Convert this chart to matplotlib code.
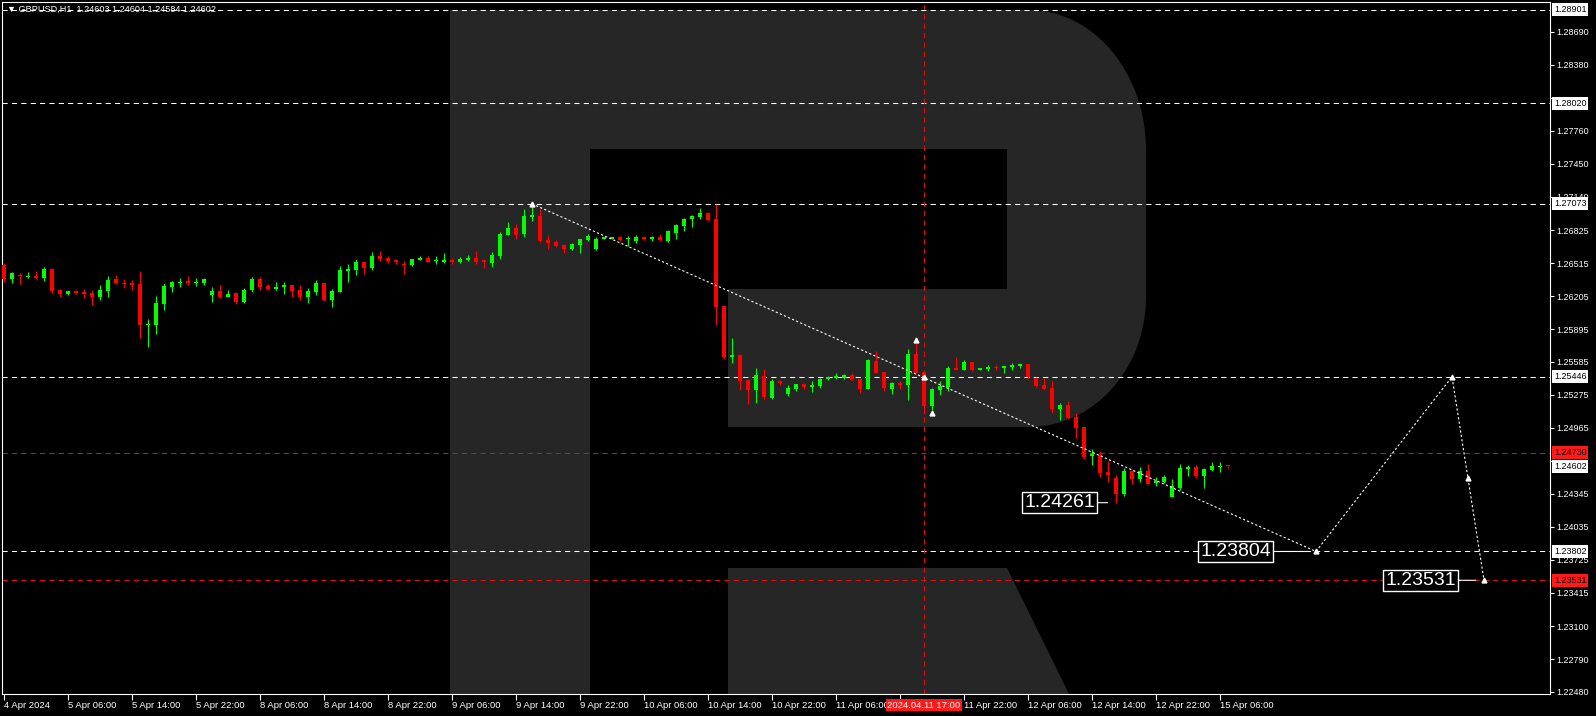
import numpy as np
import matplotlib
matplotlib.use("Agg")
import matplotlib.pyplot as plt
from matplotlib.patches import Polygon
from matplotlib.transforms import blended_transform_factory

plt.rcParams['font.family'] = ['Liberation Sans', 'DejaVu Sans']

# GBPUSD H1, bars from 4 Apr 22:00 to 15 Apr 07:00
opens = [1.26498, 1.26366, 1.26404, 1.26385, 1.26394, 1.26375, 1.26460, 1.26263, 1.26225, 1.26253,
         1.26244, 1.26234, 1.26197, 1.26253, 1.26366, 1.26328, 1.26328, 1.26319, 1.25933, 1.25933,
         1.26130, 1.26291, 1.26328, 1.26347, 1.26328, 1.26328, 1.26216, 1.26253, 1.26197, 1.26234,
         1.26149, 1.26263, 1.26366, 1.26300, 1.26272, 1.26291, 1.26310, 1.26263, 1.26197, 1.26244,
         1.26328, 1.26168, 1.26244, 1.26441, 1.26451, 1.26526, 1.26470, 1.26583, 1.26564, 1.26545,
         1.26507, 1.26498, 1.26545, 1.26564, 1.26535, 1.26526, 1.26545, 1.26526, 1.26545, 1.26564,
         1.26545, 1.26517, 1.26583, 1.26780, 1.26846, 1.26789, 1.26949, 1.26958, 1.26733, 1.26714,
         1.26686, 1.26648, 1.26686, 1.26733, 1.26648, 1.26742, 1.26742, 1.26761, 1.26742, 1.26723,
         1.26761, 1.26742, 1.26761, 1.26723, 1.26798, 1.26864, 1.26930, 1.26949, 1.26987, 1.26930,
         1.26112, 1.25632, 1.25651, 1.25416, 1.25322, 1.25453, 1.25246, 1.25406, 1.25284, 1.25331,
         1.25378, 1.25350, 1.25359, 1.25425, 1.25435, 1.25435, 1.25463, 1.25425, 1.25331, 1.25595,
         1.25491, 1.25331, 1.25387, 1.25369, 1.25660, 1.25491, 1.25171, 1.25322, 1.25350, 1.25529,
         1.25510, 1.25585, 1.25510, 1.25519, 1.25538, 1.25529, 1.25538, 1.25547, 1.25566, 1.25435,
         1.25369, 1.25340, 1.25142, 1.25180, 1.25067, 1.24973, 1.24700, 1.24710, 1.24550, 1.24493,
         1.24343, 1.24559, 1.24484, 1.24559, 1.24446, 1.24456, 1.24315, 1.24399, 1.24578, 1.24597,
         1.24512, 1.24569, 1.24597, 1.24603]
highs = [1.26517, 1.26432, 1.26422, 1.26432, 1.26441, 1.26479, 1.26470, 1.26272, 1.26253, 1.26263,
         1.26272, 1.26263, 1.26310, 1.26394, 1.26404, 1.26366, 1.26357, 1.26441, 1.25989, 1.26206,
         1.26328, 1.26347, 1.26375, 1.26394, 1.26375, 1.26375, 1.26291, 1.26310, 1.26263, 1.26234,
         1.26281, 1.26385, 1.26385, 1.26319, 1.26338, 1.26338, 1.26310, 1.26310, 1.26281, 1.26357,
         1.26328, 1.26272, 1.26488, 1.26507, 1.26554, 1.26526, 1.26620, 1.26630, 1.26583, 1.26554,
         1.26535, 1.26554, 1.26583, 1.26583, 1.26583, 1.26611, 1.26564, 1.26573, 1.26592, 1.26630,
         1.26554, 1.26620, 1.26808, 1.26902, 1.26883, 1.27024, 1.27073, 1.27024, 1.26780, 1.26733,
         1.26695, 1.26704, 1.26742, 1.26789, 1.26761, 1.26761, 1.26761, 1.26770, 1.26770, 1.26780,
         1.26770, 1.26770, 1.26789, 1.26827, 1.26883, 1.26940, 1.26968, 1.27034, 1.26996, 1.27071,
         1.26112, 1.25810, 1.25660, 1.25425, 1.25529, 1.25519, 1.25425, 1.25416, 1.25369, 1.25378,
         1.25387, 1.25406, 1.25435, 1.25453, 1.25482, 1.25472, 1.25482, 1.25425, 1.25613, 1.25689,
         1.25491, 1.25397, 1.25406, 1.25707, 1.25763, 1.25491, 1.25340, 1.25406, 1.25547, 1.25632,
         1.25604, 1.25585, 1.25529, 1.25557, 1.25557, 1.25547, 1.25576, 1.25566, 1.25566, 1.25444,
         1.25435, 1.25406, 1.25199, 1.25218, 1.25105, 1.24973, 1.24766, 1.24747, 1.24653, 1.24522,
         1.24588, 1.24569, 1.24597, 1.24625, 1.24503, 1.24522, 1.24484, 1.24625, 1.24616, 1.24616,
         1.24588, 1.24644, 1.24644, 1.24604]
lows = [1.26338, 1.26328, 1.26319, 1.26375, 1.26366, 1.26347, 1.26234, 1.26197, 1.26216, 1.26225,
        1.26187, 1.26121, 1.26168, 1.26197, 1.26319, 1.26281, 1.26263, 1.25810, 1.25726, 1.25848,
        1.26074, 1.26244, 1.26291, 1.26310, 1.26300, 1.26310, 1.26149, 1.26187, 1.26197, 1.26130,
        1.26140, 1.26244, 1.26263, 1.26263, 1.26263, 1.26225, 1.26197, 1.26168, 1.26140, 1.26216,
        1.26159, 1.26102, 1.26244, 1.26338, 1.26404, 1.26413, 1.26451, 1.26535, 1.26517, 1.26507,
        1.26413, 1.26488, 1.26545, 1.26526, 1.26507, 1.26517, 1.26507, 1.26517, 1.26535, 1.26507,
        1.26470, 1.26479, 1.26554, 1.26780, 1.26742, 1.26761, 1.26911, 1.26714, 1.26648, 1.26667,
        1.26611, 1.26639, 1.26611, 1.26723, 1.26639, 1.26742, 1.26742, 1.26723, 1.26676, 1.26704,
        1.26733, 1.26723, 1.26723, 1.26714, 1.26742, 1.26817, 1.26855, 1.26930, 1.26911, 1.25933,
        1.25613, 1.25576, 1.25322, 1.25189, 1.25199, 1.25237, 1.25237, 1.25369, 1.25265, 1.25312,
        1.25331, 1.25303, 1.25340, 1.25416, 1.25425, 1.25425, 1.25416, 1.25293, 1.25331, 1.25482,
        1.25312, 1.25284, 1.25331, 1.25227, 1.25482, 1.25095, 1.25133, 1.25275, 1.25312, 1.25510,
        1.25510, 1.25500, 1.25510, 1.25500, 1.25510, 1.25482, 1.25510, 1.25529, 1.25425, 1.25350,
        1.25331, 1.25105, 1.25039, 1.25048, 1.24870, 1.24672, 1.24616, 1.24503, 1.24456, 1.24261,
        1.24324, 1.24437, 1.24456, 1.24437, 1.24418, 1.24446, 1.24315, 1.24380, 1.24512, 1.24493,
        1.24399, 1.24559, 1.24550, 1.24584]
closes = [1.26366, 1.26422, 1.26394, 1.26394, 1.26375, 1.26460, 1.26253, 1.26225, 1.26253, 1.26234,
          1.26225, 1.26197, 1.26263, 1.26357, 1.26328, 1.26319, 1.26310, 1.25933, 1.25942, 1.26140,
          1.26300, 1.26338, 1.26338, 1.26328, 1.26338, 1.26366, 1.26253, 1.26197, 1.26225, 1.26149,
          1.26263, 1.26366, 1.26291, 1.26272, 1.26291, 1.26310, 1.26253, 1.26197, 1.26253, 1.26328,
          1.26168, 1.26253, 1.26451, 1.26460, 1.26526, 1.26470, 1.26583, 1.26554, 1.26535, 1.26526,
          1.26498, 1.26554, 1.26564, 1.26526, 1.26545, 1.26545, 1.26526, 1.26554, 1.26564, 1.26526,
          1.26526, 1.26592, 1.26789, 1.26846, 1.26780, 1.26958, 1.26968, 1.26723, 1.26704, 1.26676,
          1.26648, 1.26695, 1.26742, 1.26770, 1.26742, 1.26761, 1.26761, 1.26733, 1.26751, 1.26761,
          1.26742, 1.26761, 1.26733, 1.26817, 1.26874, 1.26930, 1.26958, 1.26987, 1.26921, 1.26102,
          1.25632, 1.25651, 1.25406, 1.25322, 1.25463, 1.25256, 1.25406, 1.25387, 1.25340, 1.25378,
          1.25350, 1.25369, 1.25425, 1.25444, 1.25453, 1.25463, 1.25416, 1.25331, 1.25604, 1.25482,
          1.25340, 1.25387, 1.25369, 1.25660, 1.25482, 1.25171, 1.25331, 1.25359, 1.25529, 1.25510,
          1.25585, 1.25510, 1.25529, 1.25538, 1.25529, 1.25547, 1.25557, 1.25566, 1.25444, 1.25359,
          1.25331, 1.25142, 1.25180, 1.25058, 1.24964, 1.24691, 1.24719, 1.24540, 1.24522, 1.24343,
          1.24559, 1.24484, 1.24559, 1.24437, 1.24465, 1.24503, 1.24418, 1.24588, 1.24597, 1.24512,
          1.24578, 1.24606, 1.24606, 1.24602]

xtick_bars = [0, 8, 16, 24, 32, 40, 48, 56, 64, 72, 80, 88, 96, 104, 112, 120, 128, 136, 144, 152]
# the 11 Apr 14:00 label sits under the crosshair time box
xtick_labels = ['4 Apr 2024', '5 Apr 06:00', '5 Apr 14:00', '5 Apr 22:00', '8 Apr 06:00',
                '8 Apr 14:00', '8 Apr 22:00', '9 Apr 06:00', '9 Apr 14:00', '9 Apr 22:00',
                '10 Apr 06:00', '10 Apr 14:00', '10 Apr 22:00', '11 Apr 06:00', '',
                '11 Apr 22:00', '12 Apr 06:00', '12 Apr 14:00', '12 Apr 22:00', '15 Apr 06:00']
ytick_vals = [1.28690, 1.28380, 1.28070, 1.27760, 1.27450, 1.27140, 1.26825, 1.26515, 1.26205,
              1.25895, 1.25585, 1.25275, 1.24965, 1.24655, 1.24345, 1.24035, 1.23725, 1.23415,
              1.23100, 1.22790, 1.22480]
# ticks whose labels are covered by the price boxes
ytick_hidden = [1.28070, 1.24655]

white_levels = [1.28901, 1.28020, 1.27073, 1.25446, 1.23802]
red_levels = [1.24730, 1.23531]
last_price = 1.24602

proj_bars = [66, 164, 181, 185]
proj_prices = [1.27073, 1.23802, 1.25446, 1.23531]
mark_bars = [66, 114, 115, 116, 164, 181, 183, 185]
mark_prices = [1.27073, 1.25792, 1.25446, 1.25105, 1.23802, 1.25446, 1.24489, 1.23531]

note_bars = [139, 164, 185]
note_prices = [1.24261, 1.23802, 1.23531]
note_texts = ['1.24261', '1.23804', '1.23531']
note_gap_px = [21, 45, 28]

cross_bar = 115
cross_label = '2024.04.11 17:00'
header = '\u25bc GBPUSD,H1  1.24603 1.24604 1.24584 1.24602'

W, H = 1596, 716
fig = plt.figure(figsize=(W / 100, H / 100), dpi=100, facecolor='black')

# watermark "R" in the background, in pixel coordinates
bg = fig.add_axes([0, 0, 1, 1], zorder=0)
bg.set_xlim(0, W)
bg.set_ylim(H, 0)
bg.axis('off')
t1 = np.linspace(np.pi / 2, 0, 30)
t2 = np.linspace(0, -np.pi / 2, 30)
arc1 = np.column_stack([1029 + 117 * np.cos(t1), 150 - 140 * np.sin(t1)])
arc2 = np.column_stack([1029 + 117 * np.cos(t2), 297 - 130 * np.sin(t2)])
r_body = np.vstack([[[450, 10]], arc1, arc2,
                    [[728, 427], [728, 289], [1007, 289], [1007, 149],
                     [590, 149], [590, 694], [450, 694]]])
bg.add_patch(Polygon(r_body, closed=True, fc='#262626', ec='none'))
bg.add_patch(Polygon([[728, 568], [1007, 568], [1069, 694], [728, 694]],
                     closed=True, fc='#262626', ec='none'))

ax = fig.add_axes([2 / W, (H - 694) / H, 1548 / W, 692 / H], zorder=1)
ax.set_facecolor('none')
ax.set_xlim(-0.25, 193.25)
ax.set_ylim(1.22461, 1.28972)

for lvl in white_levels:
    ax.axhline(lvl, color='white', lw=0.75, ls=(0, (5, 4)), zorder=1)
for lvl in red_levels:
    ax.axhline(lvl, color='#e01010', lw=0.75, ls=(0, (5, 4)), zorder=1)
ax.axvline(cross_bar, color='#e01010', lw=0.75, ls=(0, (5, 4)), zorder=1)

# candles
o = np.array(opens)
h = np.array(highs)
l = np.array(lows)
c = np.array(closes)
x = np.arange(len(o))
col = np.where(c >= o, '#00ff00', '#ff0000')
ax.vlines(x, l, h, colors=col, lw=0.8, zorder=2)
ax.bar(x, np.maximum(np.abs(c - o), 0.00009), bottom=np.minimum(o, c), width=0.62,
       color=col, lw=0, zorder=3)

# projection path
ax.plot(proj_bars, proj_prices, color='white', lw=0.8, ls=(0, (2, 2)), zorder=4)
ax.plot(mark_bars, mark_prices, ls='none', marker='^', ms=3.5, color='white', zorder=5)

for b, p, txt, gap in zip(note_bars, note_prices, note_texts, note_gap_px):
    ax.annotate(txt, xy=(b, p), xytext=(-gap, 0), textcoords='offset pixels',
                ha='right', va='center', color='white', fontsize=14, zorder=6,
                bbox=dict(boxstyle='square,pad=0.1', fc='black', ec='white', lw=1),
                arrowprops=dict(arrowstyle='-', color='white', lw=0.8, shrinkA=0, shrinkB=6))

# axes styling
for s in ax.spines.values():
    s.set_color('white')
    s.set_linewidth(0.8)
ax.yaxis.tick_right()
ax.set_yticks(ytick_vals)
ax.set_yticklabels(['' if v in ytick_hidden else f'{v:.5f}' for v in ytick_vals])
ax.set_xticks(xtick_bars)
ax.set_xticklabels(xtick_labels)
for lbl in ax.get_xticklabels():
    lbl.set_ha('left')
ax.tick_params(axis='y', colors='white', labelsize=6.5, length=3, width=0.8, pad=1.5)
ax.tick_params(axis='x', colors='white', labelsize=6.8, length=4, width=0.8, pad=1)

trans = blended_transform_factory(ax.transAxes, ax.transData)
for lvl in white_levels + [last_price]:
    ax.text(1.0025, lvl, f'{lvl:.5f}', transform=trans, ha='left', va='center', fontsize=6.5,
            color='black', clip_on=False, zorder=7,
            bbox=dict(boxstyle='square,pad=0.22', fc='white', ec='none'))
for lvl in red_levels:
    ax.text(1.0025, lvl, f'{lvl:.5f}', transform=trans, ha='left', va='center', fontsize=6.5,
            color='black', clip_on=False, zorder=7,
            bbox=dict(boxstyle='square,pad=0.22', fc='#ff1a1a', ec='none'))

xtrans = blended_transform_factory(ax.transData, ax.transAxes)
ax.text(cross_bar, -0.016, cross_label, transform=xtrans, ha='center', va='center',
        fontsize=6.8, color='white', clip_on=False, zorder=7,
        bbox=dict(boxstyle='square,pad=0.2', fc='#ff1a1a', ec='none'))

ax.text(0.003, 0.99, header, transform=ax.transAxes, ha='left', va='center',
        fontsize=6.6, color='white', zorder=7)

fig.savefig('out.png', dpi=100, facecolor='black')
